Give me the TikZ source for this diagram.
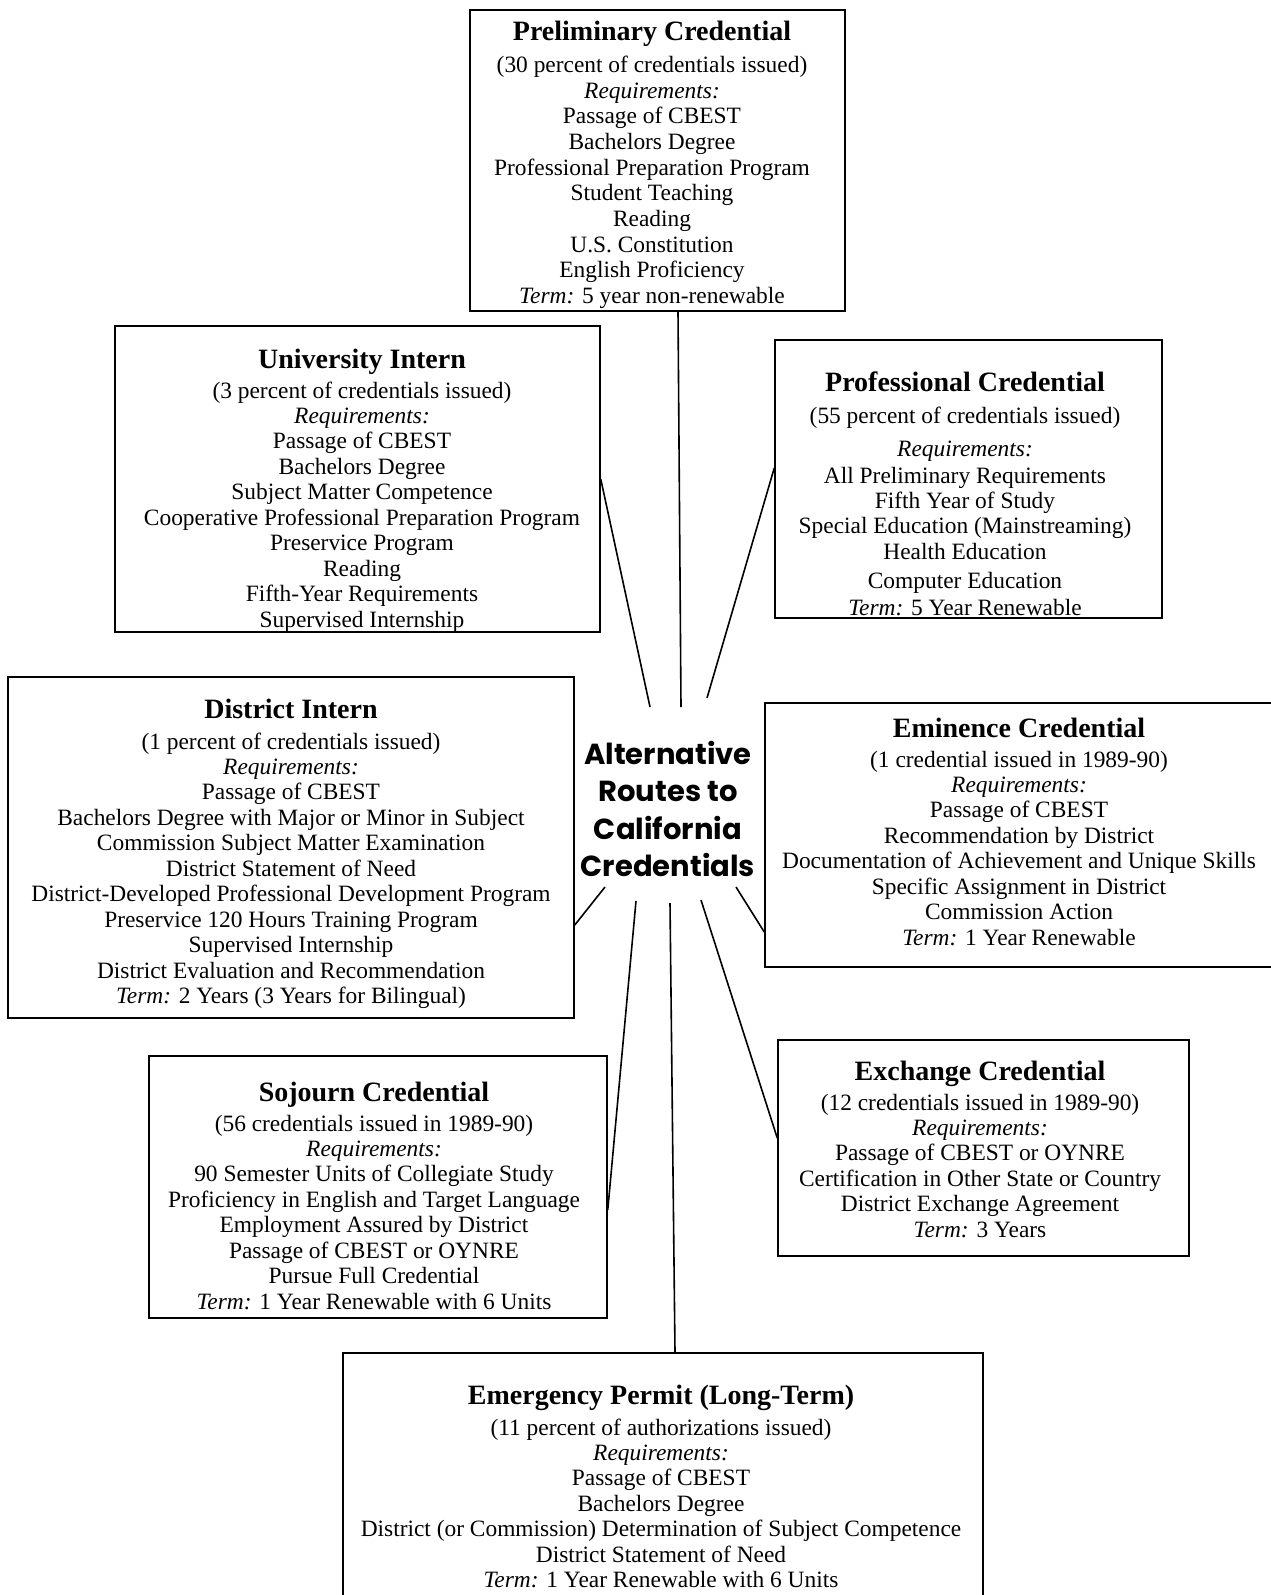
\documentclass[tikz,border=0pt]{standalone}
\usepackage{fontspec}
\setmainfont{Liberation Serif}
\newfontfamily\ctrfont{Poppins}
\begin{document}
\begin{tikzpicture}[x=1pt,y=-1pt,
  boxframe/.style={draw, line width=1.5pt, rectangle, inner sep=0pt},
  boxtext/.style={anchor=north, align=center, inner sep=0pt, font=\fontsize{23.4}{25.44}\selectfont},
  link/.style={line width=1.6pt}]
\newcommand\crtitle[1]{{\fontsize{28}{25.44}\selectfont\bfseries #1}}
\newcommand\crreq{\textit{Requirements:}}
\useasboundingbox (0,0) rectangle (1271,1595);
\fill[white] (0,0) rectangle (1271,1595);

% frames
\node[boxframe, minimum width=375pt, minimum height=301pt] (prelim) at (657.5,160.5) {};
\node[boxframe, minimum width=485pt, minimum height=306pt] (univ) at (357.5,479) {};
\node[boxframe, minimum width=387pt, minimum height=278pt] (prof) at (968.5,479) {};
\node[boxframe, minimum width=566pt, minimum height=341pt] (dist) at (291,847.5) {};
\node[boxframe, minimum width=535pt, minimum height=264pt] (emin) at (1032.5,835) {};
\node[boxframe, minimum width=411pt, minimum height=216pt] (exch) at (983.5,1148) {};
\node[boxframe, minimum width=458pt, minimum height=262pt] (soj) at (378,1187) {};
\node[boxframe, minimum width=640pt, minimum height=267pt] (emer) at (663,1486.5) {};

% texts
\node[boxtext, font=\fontsize{23.4}{25.7}\selectfont] (prelimtext) at (652,21) {\crtitle{Preliminary Credential}\\[6pt]
(30 percent of credentials issued)\\ \crreq\\ Passage of CBEST\\ Bachelors Degree\\
Professional Preparation Program\\ Student Teaching\\ Reading\\ U.S. Constitution\\
English Proficiency\\ \textit{Term:} 5 year non-renewable};

\node[boxtext] (univtext) at (362,349) {\crtitle{University Intern}\\[4pt]
(3 percent of credentials issued)\\ \crreq\\ Passage of CBEST\\ Bachelors Degree\\
Subject Matter Competence\\ Cooperative Professional Preparation Program\\
Preservice Program\\ Reading\\ Fifth-Year Requirements\\ Supervised Internship};

\node[boxtext] (proftext) at (965,372) {\crtitle{Professional Credential}\\[6.6pt]
(55 percent of credentials issued)\\[6.6pt] \crreq\\[1.6pt] All Preliminary Requirements\\
Fifth Year of Study\\ Special Education (Mainstreaming)\\ Health Education\\[3.6pt]
Computer Education\\[1.6pt] \textit{Term:} 5 Year Renewable};

\node[boxtext] (disttext) at (291,699) {\crtitle{District Intern}\\[5pt]
(1 percent of credentials issued)\\ \crreq\\ Passage of CBEST\\
Bachelors Degree with Major or Minor in Subject\\ Commission Subject Matter Examination\\
District Statement of Need\\ District-Developed Professional Development Program\\
Preservice 120 Hours Training Program\\ Supervised Internship\\
District Evaluation and Recommendation\\ \textit{Term:} 2 Years (3 Years for Bilingual)};

\node[boxtext] (emintext) at (1019,718) {\crtitle{Eminence Credential}\\[4pt]
(1 credential issued in 1989-90)\\ \crreq\\ Passage of CBEST\\ Recommendation by District\\
Documentation of Achievement and Unique Skills\\ Specific Assignment in District\\
Commission Action\\ \textit{Term:} 1 Year Renewable};

\node[boxtext] (exchtext) at (980,1061) {\crtitle{Exchange Credential}\\[4pt]
(12 credentials issued in 1989-90)\\ \crreq\\ Passage of CBEST or OYNRE\\
Certification in Other State or Country\\ District Exchange Agreement\\
\textit{Term:} 3 Years};

\node[boxtext] (sojtext) at (374,1082) {\crtitle{Sojourn Credential}\\[4pt]
(56 credentials issued in 1989-90)\\ \crreq\\ 90 Semester Units of Collegiate Study\\
Proficiency in English and Target Language\\ Employment Assured by District\\
Passage of CBEST or OYNRE\\ Pursue Full Credential\\
\textit{Term:} 1 Year Renewable with 6 Units};

\node[boxtext] (emertext) at (661,1385) {\crtitle{Emergency Permit (Long-Term)}\\[5pt]
(11 percent of authorizations issued)\\ \crreq\\ Passage of CBEST\\ Bachelors Degree\\
District (or Commission) Determination of Subject Competence\\
District Statement of Need\\ \textit{Term:} 1 Year Renewable with 6 Units};

% centre
\node[align=center, inner sep=0pt, font=\ctrfont\bfseries\fontsize{29}{37.5}\selectfont] (centre) at (668,809)
  {Alternative\\ Routes to\\ California\\ Credentials};

\coordinate (cPre) at (681,707);
\coordinate (cUni) at (650,707);
\coordinate (cPro) at (707,698);
\coordinate (cDis) at (605,887);
\coordinate (cSoj) at (636,901);
\coordinate (cEme) at (670,903);
\coordinate (cExc) at (701,900);
\coordinate (cEmi) at (736,887);

\draw[link] ([xshift=20.5pt]prelim.south) -- (cPre);
\draw[link] (univ.east) -- (cUni);
\draw[link] ([yshift=11pt]prof.west) -- (cPro);
\draw[link] ([yshift=-77.5pt]dist.east) -- (cDis);
\draw[link] ([yshift=-97pt]emin.west) -- (cEmi);
\draw[link] ([yshift=-23pt]soj.east) -- (cSoj);
\draw[link] ([yshift=10pt]exch.west) -- (cExc);
\draw[link] ([xshift=12pt]emer.north) -- (cEme);
\end{tikzpicture}
\end{document}
